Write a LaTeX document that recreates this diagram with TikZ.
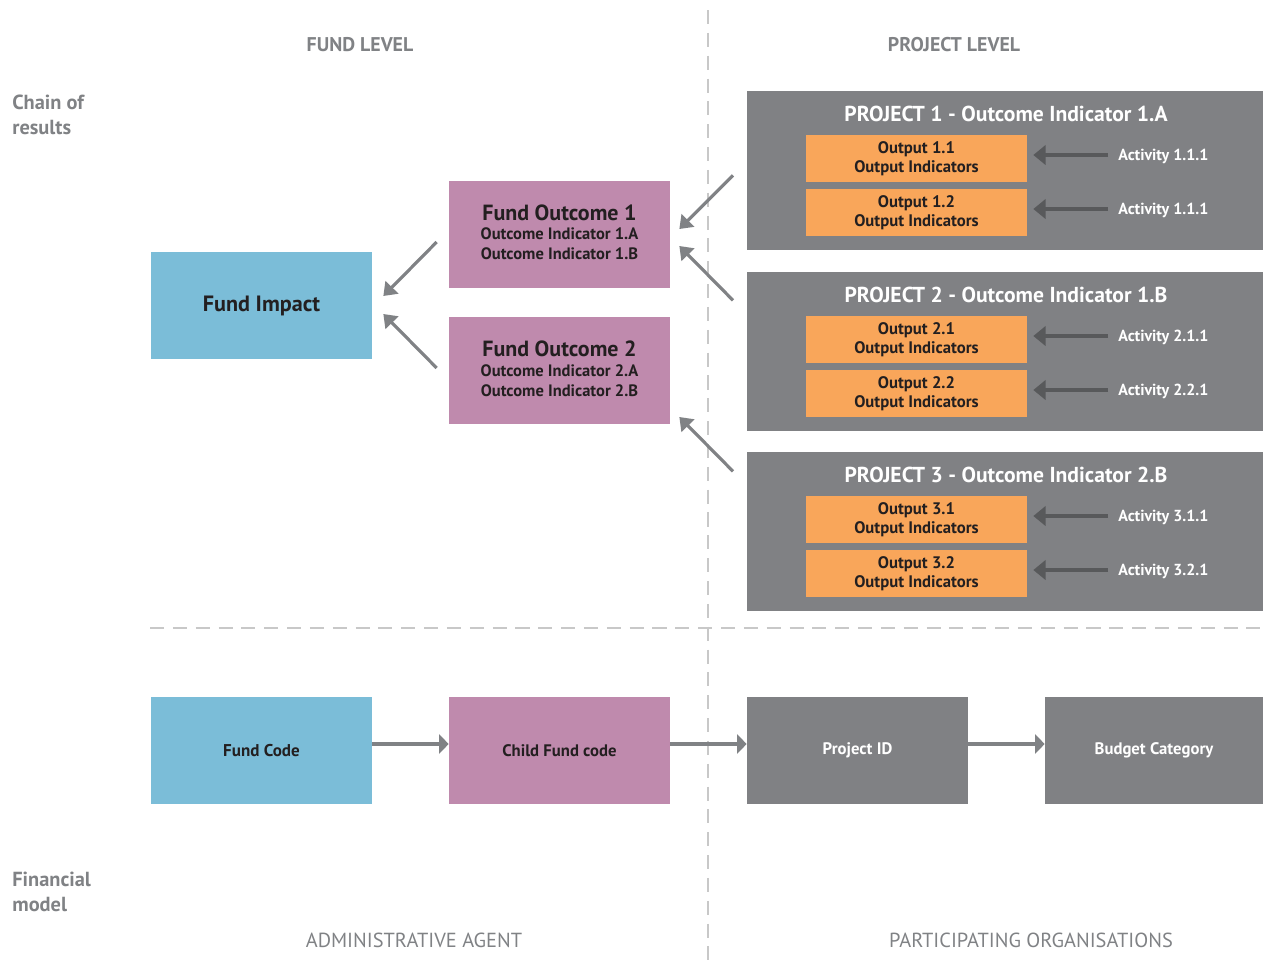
\documentclass[tikz,border=0pt]{standalone}
\usepackage{fontspec}
\setmainfont{PT Sans}
\usetikzlibrary{arrows.meta, calc, positioning}
\definecolor{fundblue}{HTML}{7BBDD8}
\definecolor{fundpink}{HTML}{BF8AAD}
\definecolor{projgray}{HTML}{808184}
\definecolor{outorange}{HTML}{F9A65A}
\definecolor{labelgray}{HTML}{808285}
\definecolor{darktext}{HTML}{231F20}
\definecolor{arrowdark}{HTML}{58595B}
\definecolor{dashgray}{HTML}{C8C8C8}

\tikzset{
  sidelabel/.style={text=labelgray, font=\bfseries\fontsize{11.6}{14.2}\selectfont, align=left, anchor=west, inner sep=0pt},
  headlabel/.style={text=labelgray, font=\bfseries\fontsize{11.3}{12}\selectfont, inner sep=0pt},
  footlabel/.style={text=labelgray, font=\fontsize{11.6}{12}\selectfont, inner sep=0pt},
  fundbox/.style={draw=none, minimum width=4.42cm, minimum height=2.14cm, inner sep=0pt, align=center, text=darktext},
  projbox/.style={fill=projgray, minimum width=10.32cm, minimum height=3.18cm, inner sep=0pt, anchor=north west},
  outbox/.style={fill=outorange, minimum width=4.42cm, minimum height=0.94cm, inner sep=0pt, align=center, text=darktext,
    font=\bfseries\fontsize{9.5}{11}\selectfont},
  actlabel/.style={text=white, anchor=west, inner sep=0pt, font=\bfseries\fontsize{9.1}{10}\selectfont},
  diag/.style={draw=labelgray, line width=1.8pt, -{Triangle[length=7pt,width=10pt]}},
  actarrow/.style={draw=arrowdark, line width=1.8pt, -{Triangle[length=7pt,width=11pt]}},
  flow/.style={draw=labelgray, line width=2.2pt, -{Triangle[length=5.5pt,width=11pt]}},
  divider/.style={draw=dashgray, line width=1.3pt, dash pattern=on 8pt off 5pt}
}

\begin{document}
\begin{tikzpicture}[x=0.02cm, y=-0.02cm]
	\useasboundingbox (0,0) rectangle (1263,960);
	
	% Dividers
	\draw[divider] (708,10) -- (708,960);
	\draw[divider] (150,628) -- (1263,628);
	
	% Labels
	\node[headlabel] (fundlevel) at (360,45) {FUND LEVEL};
	\node[headlabel] (projlevel) at (954,45) {PROJECT LEVEL};
	\node[sidelabel] (chain) at (12,114.5) {Chain of\\results};
	\node[sidelabel] (finmodel) at (12,891.5) {Financial\\model};
	\node[footlabel] (admin) at (414,940) {ADMINISTRATIVE AGENT};
	\node[footlabel] (partorg) at (1031,940) {PARTICIPATING ORGANISATIONS};
	
	% Fund level
	\node[fundbox, fill=fundblue, font=\bfseries\fontsize{12.6}{13}\selectfont] (impact) at (261.5,305.5) {Fund Impact};
	\node[fundbox, fill=fundpink] (fo1) at (559.5,234.5) {};
	\node[text=darktext, font=\bfseries\fontsize{12.5}{13}\selectfont, inner sep=0pt] (fo1t) at (559.5,213) {Fund Outcome 1};
	\node[text=darktext, font=\bfseries\fontsize{9.4}{11.3}\selectfont, align=center, inner sep=0pt] (fo1i) at (559.5,243.5) {Outcome Indicator 1.A\\Outcome Indicator 1.B};
	\node[fundbox, fill=fundpink] (fo2) at (559.5,370.5) {};
	\node[text=darktext, font=\bfseries\fontsize{12.5}{13}\selectfont, inner sep=0pt] (fo2t) at (559.5,349) {Fund Outcome 2};
	\node[text=darktext, font=\bfseries\fontsize{9.4}{11.3}\selectfont, align=center, inner sep=0pt] (fo2i) at (559.5,380.5) {Outcome Indicator 2.A\\Outcome Indicator 2.B};
	
	% Projects
	\foreach \i/\ya/\ind/\actA/\actB in {1/91/1.A/1.1.1/1.1.1, 2/272/1.B/2.1.1/2.2.1, 3/452/2.B/3.1.1/3.2.1}
	{
		\node[projbox] (p\i) at (747,\ya) {};
		\node[text=white, inner sep=0pt, font=\bfseries\fontsize{12.3}{12}\selectfont] (p\i t) at (1006,{\ya+23}) {PROJECT \i\ - Outcome Indicator \ind};
		\node[outbox] (o\i a) at (916.5,{\ya+67.5}) {Output \i.1\\Output Indicators};
		\node[outbox] (o\i b) at (916.5,{\ya+121.5}) {Output \i.2\\Output Indicators};
		\node[actlabel] (a\i a) at (1118,{\ya+65}) {Activity \actA};
		\node[actlabel] (a\i b) at (1118,{\ya+119}) {Activity \actB};
		\draw[actarrow, shorten <=10*0.02cm, shorten >=6*0.02cm] ($(a\i a.west)+(0,-1)$) -- ($(a\i a.west -| o\i a.east)+(0,-1)$);
		\draw[actarrow, shorten <=10*0.02cm, shorten >=6*0.02cm] ($(a\i b.west)+(0,-1)$) -- ($(a\i b.west -| o\i b.east)+(0,-1)$);
	}
	
	% Chain of results
	\draw[diag] ($(fo1.west)+(-12,7.5)$) -- ($(impact.east)+(11,-9.5)$);
	\draw[diag] ($(fo2.west)+(-12,-2.5)$) -- ($(impact.east)+(11,8.5)$);
	\draw[diag] ($(p1.west)+(-14,4.5)$) -- ($(fo1.east)+(9,-5.5)$);
	\draw[diag] ($(p2.west)+(-14,-51.5)$) -- ($(fo1.east)+(9,11.5)$);
	\draw[diag] ($(p3.west)+(-14,-60.5)$) -- ($(fo2.east)+(9,46.5)$);
	
	% Financial model
	\node[fundbox, fill=fundblue, font=\bfseries\fontsize{9.7}{10}\selectfont] (fcode) at (261.5,750.5) {\raisebox{-4.5\dimexpr 0.02cm\relax}{Fund Code}};
	\node[fundbox, fill=fundpink, font=\bfseries\fontsize{9.5}{10}\selectfont] (cfcode) at (559.5,750.5) {\raisebox{-4.5\dimexpr 0.02cm\relax}{Child Fund code}};
	\node[fundbox, fill=projgray, text=white, font=\bfseries\fontsize{9.5}{10}\selectfont] (pid) at (857.5,750.5) {\raisebox{-4.5\dimexpr 0.02cm\relax}{Project ID}};
	\node[fundbox, fill=projgray, text=white, minimum width=4.36cm, font=\bfseries\fontsize{9.5}{10}\selectfont] (budget) at (1154,750.5) {\raisebox{-4.5\dimexpr 0.02cm\relax}{Budget Category}};
	\draw[flow] ($(fcode.east)+(0,-6.5)$) -- ($(cfcode.west)+(0,-6.5)$);
	\draw[flow] ($(cfcode.east)+(0,-6.5)$) -- ($(pid.west)+(0,-6.5)$);
	\draw[flow] ($(pid.east)+(0,-6.5)$) -- ($(budget.west)+(0,-6.5)$);
	
\end{tikzpicture}
\end{document}
